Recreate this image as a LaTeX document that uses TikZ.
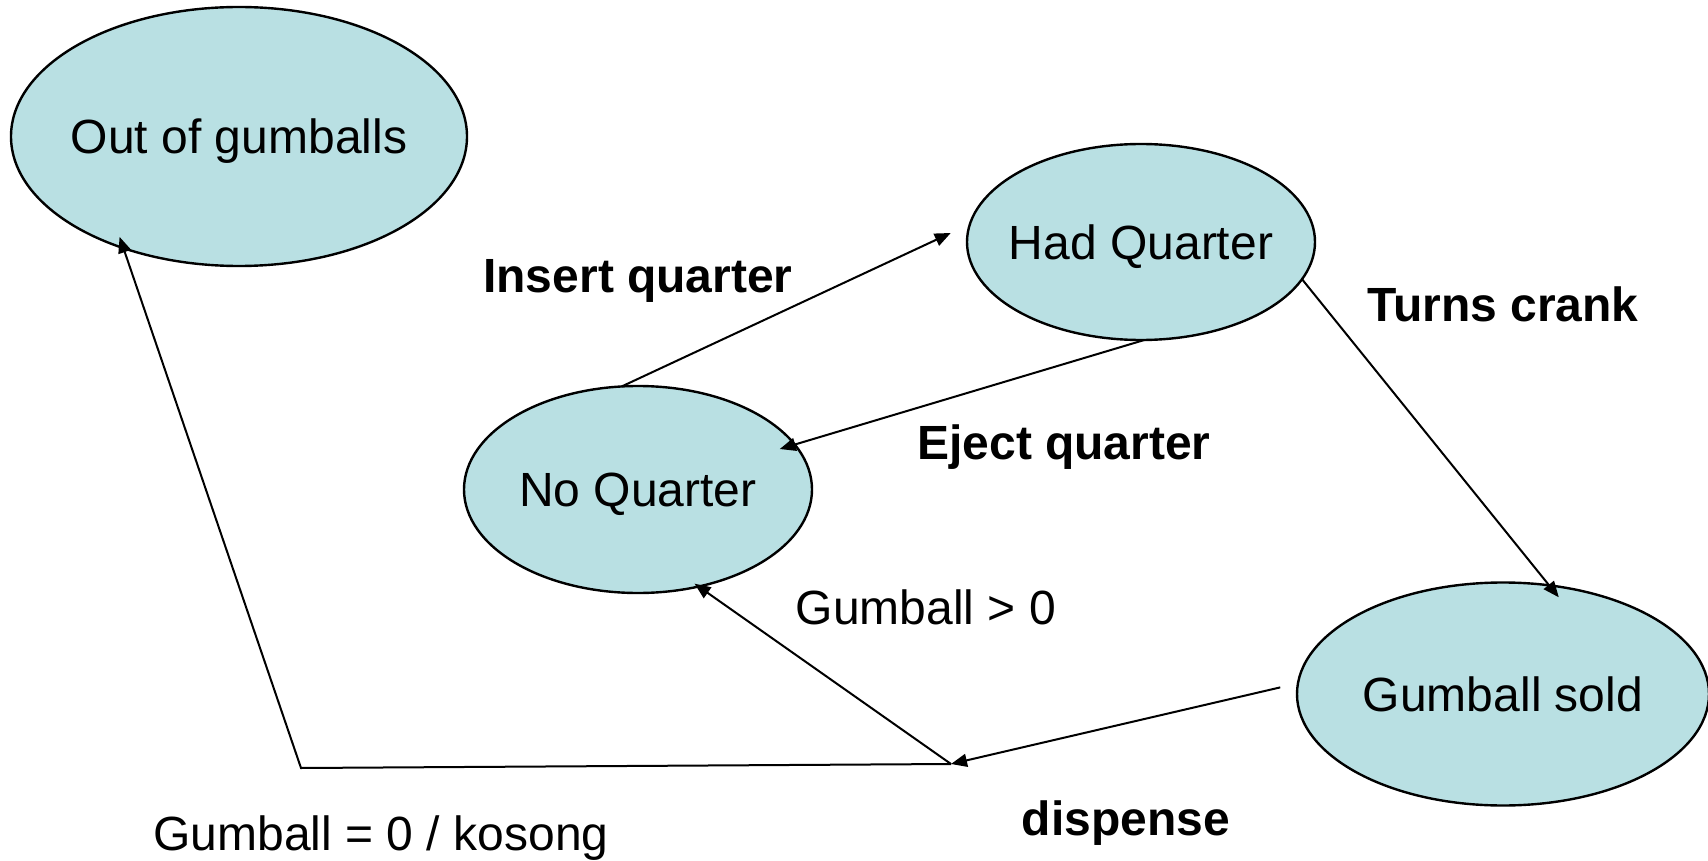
\documentclass[tikz,border=0pt]{standalone}
\usepackage{fontspec}
\setmainfont{Liberation Sans}
\usetikzlibrary{shapes.geometric,arrows.meta}
\definecolor{statefill}{RGB}{185,224,227}
\tikzset{
  state/.style={ellipse, draw=black, line width=1.2pt, fill=statefill,
    inner xsep=-20pt, inner ysep=0pt, outer sep=0pt, text depth=0pt,
    font=\fontsize{24}{28}\selectfont},
  trans/.style={line width=1pt, -{Triangle[length=8pt,width=6.5pt]}},
  evt/.style={font=\fontsize{24}{28}\selectfont\bfseries, inner sep=0pt},
  cond/.style={font=\fontsize{24}{28}\selectfont, inner sep=0pt}
}
\begin{document}
\begin{tikzpicture}[x=0.5pt,y=-0.5pt]
\useasboundingbox (0,0) rectangle (1708,861);

% states
\node[state, minimum width=228pt, minimum height=129.5pt] (oog) at (239,136.5) {Out of gumballs};
\node[state, minimum width=174pt, minimum height=98pt] (hq) at (1141,242) {Had Quarter};
\node[state, minimum width=174pt, minimum height=103.5pt] (noq) at (638,489.5) {No Quarter};
\node[state, minimum width=206pt, minimum height=111.5pt] (gs) at (1503,694) {Gumball sold};

% junction after dispensing and the bend of the empty-machine path
\coordinate (j) at (951,764);
\coordinate (bend) at (301,768);

% transitions
\draw[trans, shorten >=10.6pt] (noq.99) -- (hq.174.7);
\draw[trans, shorten >=-7.8pt] (hq.-88.5) -- (noq.16.8);
\draw[trans, shorten >=-7.7pt] (hq.-13.95) -- (gs.67.9);
\draw[trans, shorten <=9.1pt] (gs.177.2) -- (j);
\draw[trans, shorten >=-2.5pt] (j) -- (noq.-58.75);
\draw[trans, shorten >=-5.95pt] (j) -- (bend) -- (oog.-136.83);

% labels
\node[evt] (lins) at (638,280.5) {Insert quarter};
\node[evt] (lej) at (1064,447.5) {Eject quarter};
\node[evt] (ltc) at (1503,304) {Turns crank};
\node[evt] (ldis) at (1126,823) {dispense};
\node[cond] (lgt) at (926,607) {Gumball > 0};
\node[cond] (leq) at (381,838) {Gumball = 0 / kosong};
\end{tikzpicture}
\end{document}
